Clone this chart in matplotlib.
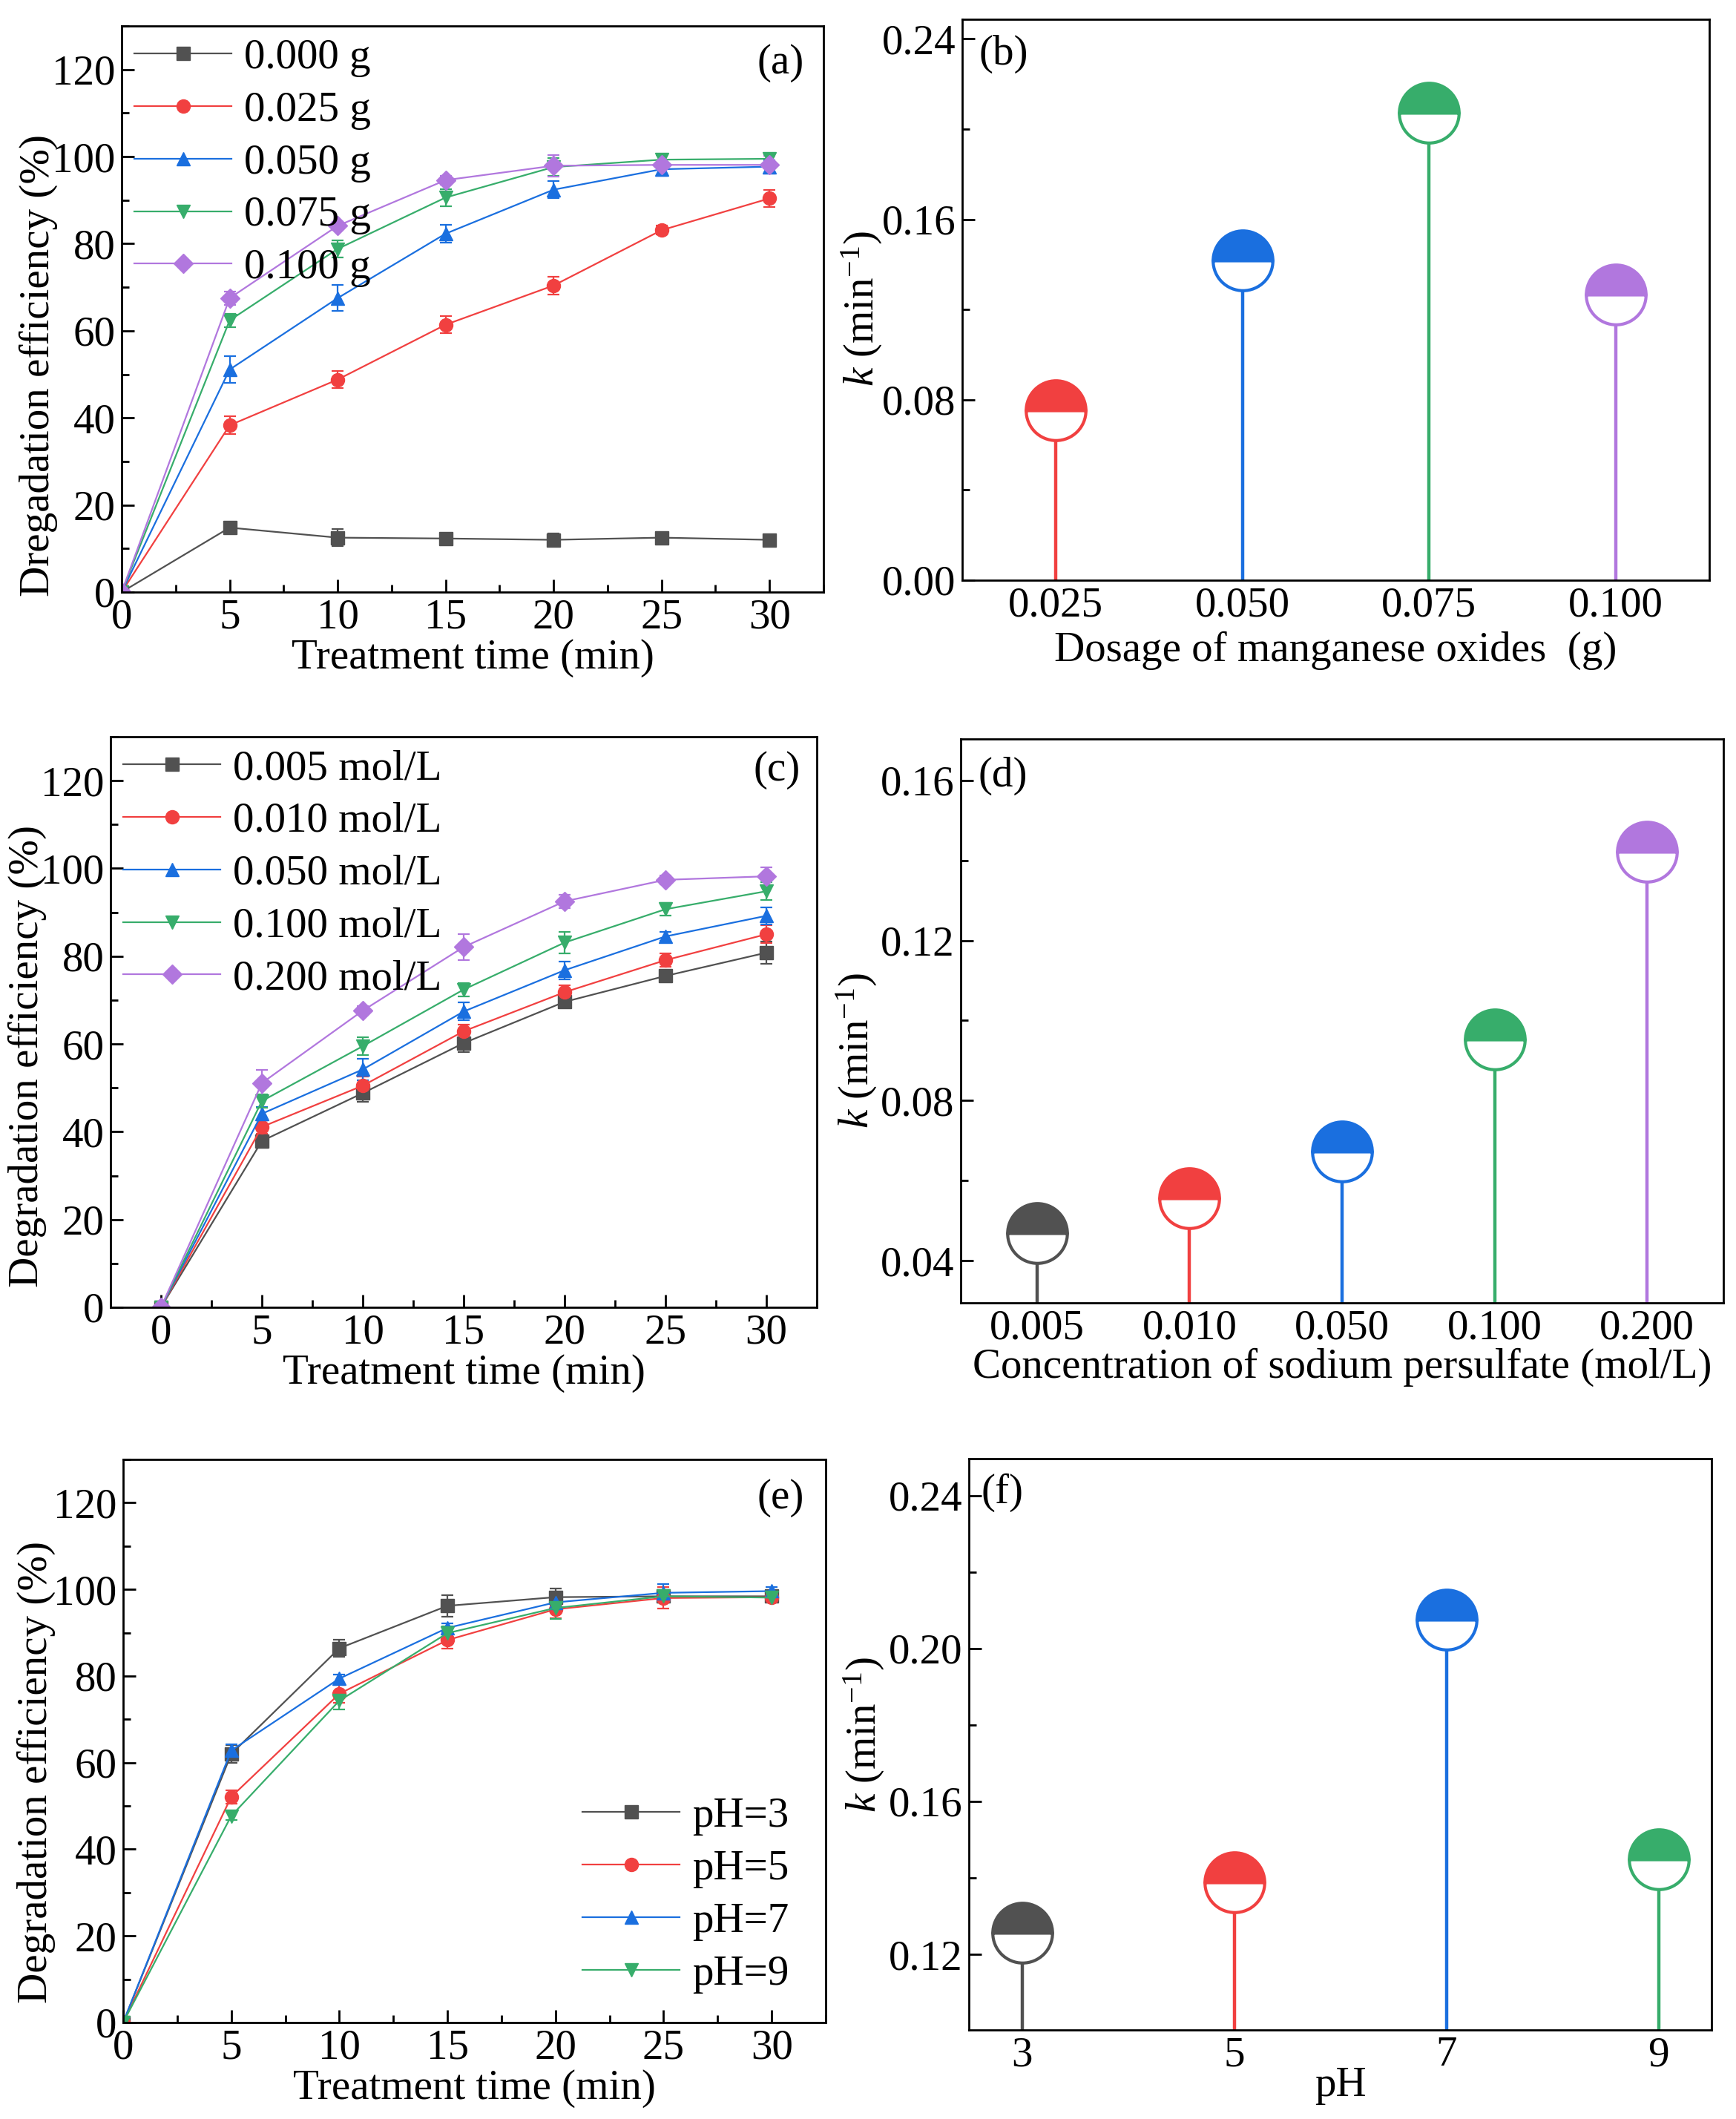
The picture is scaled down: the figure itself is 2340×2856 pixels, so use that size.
import numpy as np
import matplotlib
matplotlib.use("Agg")
import matplotlib.pyplot as plt
from matplotlib.ticker import MultipleLocator, FormatStrFormatter

plt.rcParams['font.family'] = ['Liberation Serif', 'DejaVu Serif']
plt.rcParams['mathtext.fontset'] = 'custom'
plt.rcParams['mathtext.rm'] = 'Liberation Serif'
plt.rcParams['mathtext.it'] = 'Liberation Serif:italic'
plt.rcParams['font.size'] = 41
plt.rcParams['axes.linewidth'] = 2

# Origin-like palette
cores = ['#515151', '#F14040', '#1A6FDF', '#37AD6B', '#B177DE']
marcadores = ['s', 'o', '^', 'v', 'D']

tempo = [0, 5, 10, 15, 20, 25, 30]

# (a) dosage of manganese oxides
dose_rotulos = ['0.000 g', '0.025 g', '0.050 g', '0.075 g', '0.100 g']
dose_y = [
    [0, 14.8, 12.5, 12.3, 12.0, 12.5, 12.0],
    [0, 38.3, 48.8, 61.4, 70.4, 83.1, 90.4],
    [0, 51.1, 67.5, 82.3, 92.4, 97.1, 97.7],
    [0, 62.4, 78.8, 90.6, 97.6, 99.3, 99.5],
    [0, 67.5, 84.1, 94.6, 97.9, 98.1, 98.1],
]
dose_err = [
    [0, 1.0, 2.0, 1.0, 1.5, 1.0, 1.0],
    [0, 2.0, 2.0, 2.0, 2.0, 1.0, 2.0],
    [0, 3.0, 3.0, 2.0, 2.0, 1.5, 1.5],
    [0, 1.5, 2.0, 2.0, 2.0, 1.0, 1.0],
    [0, 1.5, 1.0, 1.0, 2.5, 2.5, 2.0],
]

# (b) rate constants vs dosage
k_dose_x = ['0.025', '0.050', '0.075', '0.100']
k_dose = [0.0752, 0.1418, 0.2073, 0.1268]
k_dose_cores = cores[1:]

# (c) concentration of sodium persulfate
conc_rotulos = ['0.005 mol/L', '0.010 mol/L', '0.050 mol/L', '0.100 mol/L', '0.200 mol/L']
conc_y = [
    [0, 37.9, 48.8, 60.2, 69.6, 75.5, 80.8],
    [0, 41.1, 50.5, 62.9, 71.8, 79.1, 85.0],
    [0, 44.1, 54.2, 67.4, 76.8, 84.5, 89.2],
    [0, 47.0, 59.5, 72.4, 83.1, 90.7, 94.8],
    [0, 51.1, 67.6, 82.1, 92.5, 97.4, 98.2],
]
conc_err = [
    [0, 1.5, 2.0, 2.0, 1.0, 1.0, 2.5],
    [0, 1.5, 2.0, 1.5, 1.5, 1.5, 2.0],
    [0, 1.5, 2.5, 2.0, 2.0, 1.0, 2.0],
    [0, 1.5, 2.0, 1.5, 2.5, 1.5, 2.0],
    [0, 3.0, 1.0, 3.0, 1.5, 1.0, 2.0],
]

# (d) rate constants vs concentration
k_conc_x = ['0.005', '0.010', '0.050', '0.100', '0.200']
k_conc = [0.0470, 0.0557, 0.0673, 0.0952, 0.1422]
k_conc_cores = cores

# (e) pH
ph_rotulos = ['pH=3', 'pH=5', 'pH=7', 'pH=9']
ph_y = [
    [0, 62.0, 86.4, 96.2, 98.2, 98.4, 98.4],
    [0, 52.1, 75.9, 88.3, 95.4, 98.0, 98.2],
    [0, 62.8, 79.4, 91.1, 97.0, 99.2, 99.6],
    [0, 47.7, 74.3, 89.9, 95.7, 98.4, 98.1],
]
ph_err = [
    [0, 2.0, 2.0, 2.5, 2.0, 1.0, 1.0],
    [0, 1.5, 2.0, 2.0, 2.0, 2.5, 1.0],
    [0, 1.5, 1.0, 1.0, 1.0, 2.0, 1.0],
    [0, 1.0, 2.0, 1.5, 2.5, 1.5, 1.0],
]
ph_cores = cores[:4]

# (f) rate constants vs pH
k_ph_x = [3, 5, 7, 9]
k_ph = [0.1257, 0.1388, 0.2075, 0.1448]
k_ph_cores = cores[:4]

W, H = 2340, 2856
fig = plt.figure(figsize=(W / 100, H / 100), dpi=100)


def eixo(l, t, r, b):
    return fig.add_axes([l / W, (H - b) / H, (r - l) / W, (b - t) / H])


def estilo(ax):
    ax.tick_params(which='both', direction='in', top=False, right=False, width=2, pad=6)
    ax.tick_params(which='major', length=12)
    ax.tick_params(which='minor', length=7)


def curvas(ax, ys, errs, rotulos, cs, xlim, ylabel, lab_xy, letra, letra_xy, leg_kw):
    linhas = []
    for i, (y, e) in enumerate(zip(ys, errs)):
        cont = ax.errorbar(tempo, y, yerr=e, color=cs[i], marker=marcadores[i], ms=13,
                           lw=1.6, elinewidth=1.6, capsize=6, capthick=1.6)
        linhas.append(cont[0])
    ax.set_xlim(*xlim)
    ax.set_ylim(0, 130)
    ax.xaxis.set_major_locator(MultipleLocator(5))
    ax.xaxis.set_minor_locator(MultipleLocator(2.5))
    ax.yaxis.set_major_locator(MultipleLocator(20))
    ax.yaxis.set_minor_locator(MultipleLocator(10))
    estilo(ax)
    ax.set_xlabel('Treatment time (min)', labelpad=2)
    ax.set_ylabel(ylabel)
    ax.yaxis.set_label_coords(*lab_xy)
    ax.text(letra_xy[0], letra_xy[1], letra, transform=ax.transAxes, ha='center', va='center')
    ax.legend(linhas, rotulos, frameon=False, handlelength=2.3, handletextpad=0.3,
              labelspacing=0.33, borderpad=0.2, **leg_kw)


def hastes(ax, xs, ks, cs, ylim, ymaj, xlim, xticks, xticklabels, xlabel, lab_xy, letra, letra_xy, labelpad):
    for x, k, c in zip(xs, ks, cs):
        ax.vlines(x, ylim[0], k, color=c, lw=3.2, zorder=2)
        ax.plot([x], [k], marker='o', ms=58, fillstyle='top', markerfacecolor=c,
                markerfacecoloralt='white', markeredgecolor=c, mew=3, ls='none', zorder=3)
    ax.set_xlim(*xlim)
    ax.set_ylim(*ylim)
    ax.yaxis.set_major_locator(MultipleLocator(ymaj))
    ax.yaxis.set_minor_locator(MultipleLocator(ymaj / 2))
    ax.yaxis.set_major_formatter(FormatStrFormatter('%.2f'))
    ax.set_xticks(xticks)
    ax.set_xticklabels(xticklabels)
    estilo(ax)
    ax.set_xlabel(xlabel, labelpad=labelpad)
    ax.set_ylabel(r'$\mathit{k}$ (min$^{-1}$)')
    ax.yaxis.set_label_coords(*lab_xy)
    ax.text(letra_xy[0], letra_xy[1], letra, transform=ax.transAxes, ha='center', va='center')


ax_a = eixo(164, 35, 1110, 798)
curvas(ax_a, dose_y, dose_err, dose_rotulos, cores, (0, 32.5), 'Dregadation efficiency (%)',
       (-0.091, 0.40), '(a)', (0.939, 0.934),
       dict(loc='upper left', bbox_to_anchor=(0.0, 1.0), borderaxespad=0.1))

ax_b = eixo(1297, 26, 2304, 782)
hastes(ax_b, range(len(k_dose)), k_dose, k_dose_cores, (0, 0.2487), 0.08, (-0.5, 3.5),
       range(len(k_dose)), k_dose_x, 'Dosage of manganese oxides  (g)',
       (-0.104, 0.484), '(b)', (0.055, 0.938), 6)

ax_c = eixo(149, 993, 1101, 1762)
curvas(ax_c, conc_y, conc_err, conc_rotulos, cores, (-2.5, 32.5), 'Degradation efficiency (%)',
       (-0.090, 0.44), '(c)', (0.943, 0.941),
       dict(loc='upper left', bbox_to_anchor=(0.0, 1.0), borderaxespad=0.1))

ax_d = eixo(1295, 996, 2323, 1756)
hastes(ax_d, range(len(k_conc)), k_conc, k_conc_cores, (0.0295, 0.1703), 0.04, (-0.5, 4.5),
       range(len(k_conc)), k_conc_x, 'Concentration of sodium persulfate (mol/L)',
       (-0.107, 0.447), '(d)', (0.055, 0.935), 0)

ax_e = eixo(166, 1967, 1113, 2726)
curvas(ax_e, ph_y, ph_err, ph_rotulos, ph_cores, (0, 32.5), 'Degradation efficiency (%)',
       (-0.096, 0.445), '(e)', (0.936, 0.931),
       dict(loc='lower right', bbox_to_anchor=(0.96, 0.037), borderaxespad=0.0))

ax_f = eixo(1306, 1966, 2307, 2736)
hastes(ax_f, k_ph_x, k_ph, k_ph_cores, (0.1002, 0.2497), 0.04, (2.5, 9.5),
       k_ph_x, [str(v) for v in k_ph_x], 'pH',
       (-0.111, 0.517), '(f)', (0.045, 0.940), -8)

fig.savefig('out.png', dpi=100)
